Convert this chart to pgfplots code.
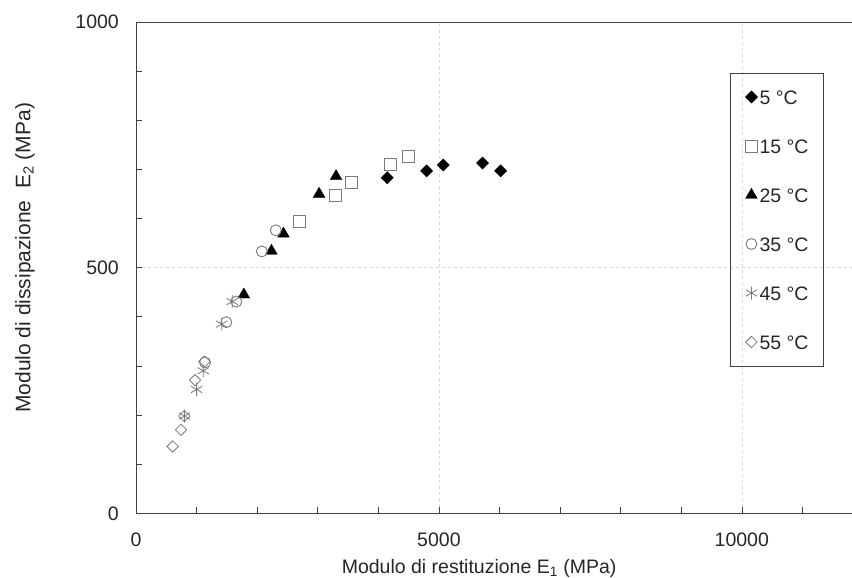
\documentclass[border=0pt]{standalone}
\usepackage{fontspec}
\setmainfont{Liberation Sans}
\usepackage{pgfplots}
\pgfplotsset{compat=1.18}
\definecolor{mk}{HTML}{7A7A7A}
\definecolor{ax}{HTML}{404040}
\begin{document}
\fontsize{19.5}{23}\selectfont
\begin{tikzpicture}
\begin{axis}[name=ax, scale only axis, width=727pt, height=491.3pt,
  xmin=0, xmax=12000, ymin=0, ymax=1000,
  xtick={0,5000,10000}, ytick={0,500,1000},
  minor xtick={1000,2000,3000,4000,6000,7000,8000,9000,11000},
  minor ytick={100,200,300,400,600,700,800,900},
  xtick pos=bottom, ytick pos=left,
  tick align=inside, major tick length=6pt, minor tick length=6pt,
  tick style={ax, line width=0.6pt},
  axis line style={ax, line width=0.9pt},
  grid=major, major grid style={dashed, color=black!15, line width=0.6pt},
  scaled ticks=false,
  /pgf/number format/assume math mode=true,
  /pgf/number format/set thousands separator={},
  xticklabel style={yshift=-13pt, text=black!85},
  yticklabel style={xshift=-10.5pt, text=black!85},
  xlabel={Modulo di restituzione E\textsubscript{1} (MPa)},
  ylabel={Modulo di dissipazione\ \ E\textsubscript{2} (MPa)},
  xlabel style={at={(rel axis cs:0.472,-0.122)}, anchor=base, text=black!85},
  ylabel style={at={(rel axis cs:-0.1527,0.52)}, anchor=center, text=black!85, font=\fontsize{21}{25}\selectfont},
  legend cell align=left,
  legend image code/.code={\path[draw=none,fill=none] (-6pt,-6pt) rectangle (6pt,6pt); \draw[#1] plot coordinates {(0pt,0pt)};},
  legend style={at={(rel axis cs:0.817,0.897)}, anchor=north west, draw=ax, line width=0.8pt,
    fill=none, inner xsep=15pt, inner ysep=17pt, row sep=35pt, column sep=2pt,
    nodes={inner sep=0pt, text height=14pt, text depth=0pt, text=black!85}},
]
\addplot[only marks, mark=square*, mark size=4.3pt, mark options={rotate=45, fill=black, draw=black, line width=0.4pt}]
  coordinates {(4147,683) (4797,697) (5071,709) (5721,713) (6018,697)};
\addlegendentry{5 °C}
\addplot[only marks, mark=square, mark size=6pt, mark options={draw=mk, line width=0.9pt}]
  coordinates {(2692,594) (3291,646) (3555,673) (4203,711) (4489,726)};
\addlegendentry{15 °C}
\addplot[only marks, mark=triangle*, mark size=6.8pt, mark options={fill=black, draw=black, line width=0.3pt}]
  coordinates {(1780,445) (2236,534) (2434,569) (3022,650) (3302,686)};
\addlegendentry{25 °C}
\addplot[only marks, mark=o, mark size=5.5pt, mark options={draw=mk, line width=0.9pt}]
  coordinates {(1139,307) (1490,389) (1655,431) (2077,533) (2308,576)};
\addlegendentry{35 °C}
\addplot[only marks, mark=asterisk, mark size=6.5pt, mark options={draw=mk, line width=0.8pt}]
  coordinates {(800,198) (1001,252) (1111,290) (1414,385) (1589,431)};
\addlegendentry{45 °C}
\addplot[only marks, mark=square, mark size=4pt, mark options={rotate=45, draw=mk, line width=0.8pt}]
  coordinates {(605,136) (743,170) (797,198) (974,271) (1130,309)};
\addlegendentry{55 °C}
\end{axis}
\pgfresetboundingbox
\path[use as bounding box] ([xshift=-136pt,yshift=-64.7pt]ax.south west) rectangle ([xshift=716pt,yshift=513.3pt]ax.south west);
\end{tikzpicture}
\end{document}
